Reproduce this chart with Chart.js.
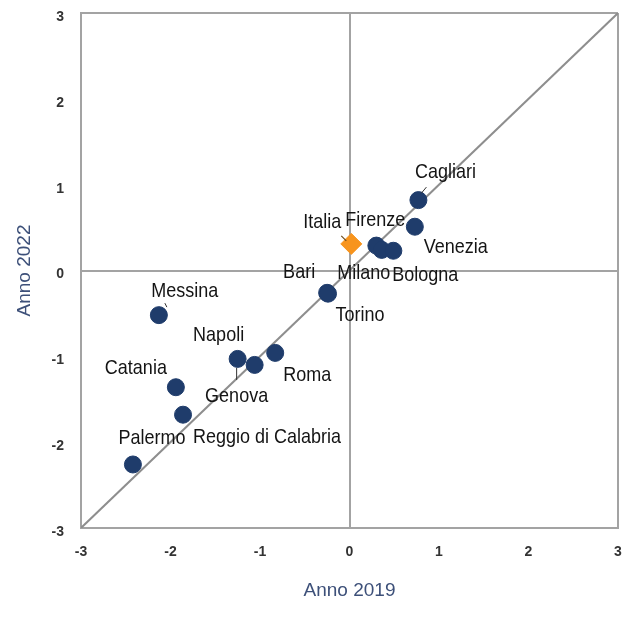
<!DOCTYPE html>
<html><head><meta charset="utf-8">
<script src="https://cdn.jsdelivr.net/npm/chart.js@4/dist/chart.umd.min.js"></script>
<style>html,body{margin:0;padding:0;background:#fff}#wrap{width:627px;height:624px}</style>
</head><body><div id="wrap"><canvas id="c" width="627" height="624"></canvas></div>
<script>
// ---- data ----
const cities = ['Cagliari','Venezia','Firenze','Milano','Bologna','Bari','Torino','Messina','Napoli','Genova','Roma','Catania','Reggio di Calabria','Palermo'];
const anno2019 = [0.77, 0.73, 0.30, 0.36, 0.49, -0.25, -0.24, -2.13, -1.25, -1.06, -0.83, -1.94, -1.86, -2.42];
const anno2022 = [0.82, 0.51, 0.29, 0.24, 0.23, -0.26, -0.27, -0.52, -1.03, -1.10, -0.96, -1.36, -1.68, -2.26];
const italiaName = ['Italia'];
const italia2019 = [0.02];
const italia2022 = [0.31];
const diagonal = [-3, 3];
const tickValues = [-3, -2, -1, 0, 1, 2, 3];

// ---- label placement (pixel offsets from each point) ----
const cityLabelOffsets = [[27,-28],[41,21],[-1,-25],[-18,24],[32,25],[-28,-20],[32,22],[26,-24],[-19,-23],[-18,32],[32,23],[-40,-19],[84,23],[19,-26]];
const italiaLabelOffsets = [[-29,-21]];
const leaderLines = { 'Cagliari':[[3,-7],[8,-13]], 'Messina':[[6,-12],[8,-8]], 'Napoli':[[-1,9],[-1,21]] };
const italiaLeader = [[-10,-8],[-5,-3]];

const FONT = "'Liberation Sans', Arial, sans-serif";
const GRAY = '#a3a3a3';

const labelPlugin = {
  id: 'pointLabels',
  afterDatasetsDraw(chart) {
    const ctx = chart.ctx;
    const drawSet = (dsIndex, names, offsets) => {
      const meta = chart.getDatasetMeta(dsIndex);
      names.forEach((name, i) => {
        const el = meta.data[i];
        const [dx, dy] = offsets[i];
        ctx.save();
        ctx.translate(el.x + dx, el.y + dy);
        ctx.scale(1, 1.12);
        ctx.fillText(name, 0, 0);
        ctx.restore();
      });
    };
    ctx.save();
    ctx.font = '18px ' + FONT;
    ctx.fillStyle = '#141414';
    ctx.textAlign = 'center';
    ctx.textBaseline = 'middle';
    drawSet(0, cities, cityLabelOffsets);
    drawSet(1, italiaName, italiaLabelOffsets);
    // leader lines
    ctx.strokeStyle = '#333';
    ctx.lineWidth = 1;
    const meta0 = chart.getDatasetMeta(0);
    cities.forEach((name, i) => {
      const seg = leaderLines[name];
      if (!seg) return;
      const el = meta0.data[i];
      ctx.beginPath();
      ctx.moveTo(el.x + seg[0][0], el.y + seg[0][1]);
      ctx.lineTo(el.x + seg[1][0], el.y + seg[1][1]);
      ctx.stroke();
    });
    const it = chart.getDatasetMeta(1).data[0];
    ctx.strokeStyle = '#6b4a1a';
    ctx.lineWidth = 1.2;
    ctx.beginPath();
    ctx.moveTo(it.x + italiaLeader[0][0], it.y + italiaLeader[0][1]);
    ctx.lineTo(it.x + italiaLeader[1][0], it.y + italiaLeader[1][1]);
    ctx.stroke();
    ctx.restore();
  }
};

const gridColor = (c) => (c.tick && (c.tick.value === 0 || c.tick.value === 3 || c.tick.value === -3)) ? GRAY : 'rgba(0,0,0,0)';

const tickFont = { family: "'Liberation Sans Narrow', " + FONT, size: 14, weight: 'bold' };

new Chart(document.getElementById('c'), {
  type: 'scatter',
  data: {
    datasets: [
      {
        label: 'Città',
        data: cities.map((n, i) => ({ x: anno2019[i], y: anno2022[i] })),
        backgroundColor: '#1f3c6b',
        borderColor: '#1f3c6b',
        pointRadius: 8.5,
        pointStyle: 'circle'
      },
      {
        label: 'Italia',
        data: italiaName.map((n, i) => ({ x: italia2019[i], y: italia2022[i] })),
        backgroundColor: '#f7941d',
        borderColor: '#f7941d',
        pointRadius: 10.5,
        pointStyle: 'rectRot'
      },
      {
        label: 'diag',
        data: diagonal.map(v => ({ x: v, y: v })),
        showLine: true,
        borderColor: '#8e8e8e',
        borderWidth: 2,
        pointRadius: 0
      }
    ]
  },
  options: {
    responsive: false,
    animation: false,
    devicePixelRatio: 1,
    layout: { autoPadding: false, padding: { left: 0, right: 9, top: 13, bottom: 0 } },
    plugins: { legend: { display: false }, tooltip: { enabled: false } },
    scales: {
      x: {
        type: 'linear', min: -3, max: 3,
        afterFit: (s) => { s.height = 96; s.paddingLeft = 0; s.paddingRight = 0; },
        afterBuildTicks: (s) => { s.ticks = tickValues.map(v => ({ value: v })); },
        ticks: { font: tickFont, color: '#333', padding: 16 },
        grid: { color: gridColor, lineWidth: 2, drawTicks: false },
        border: { display: true, color: GRAY, width: 2 },
        title: { display: true, text: 'Anno 2019', color: '#3d5079', font: { family: FONT, size: 19 }, padding: { top: 0, bottom: 22 } }
      },
      y: {
        type: 'linear', min: -3, max: 3,
        afterFit: (s) => { s.width = 81; s.paddingTop = 0; s.paddingBottom = 0; },
        afterBuildTicks: (s) => { s.ticks = tickValues.map(v => ({ value: v })); },
        ticks: { font: tickFont, color: '#333', padding: 17, labelOffset: 4 },
        grid: { color: gridColor, lineWidth: 2, drawTicks: false },
        border: { display: true, color: GRAY, width: 2 },
        title: { display: true, text: 'Anno 2022', color: '#3d5079', font: { family: FONT, size: 19 }, padding: { top: 13, bottom: 0 } }
      }
    }
  },
  plugins: [labelPlugin]
});
</script>
</body></html>
